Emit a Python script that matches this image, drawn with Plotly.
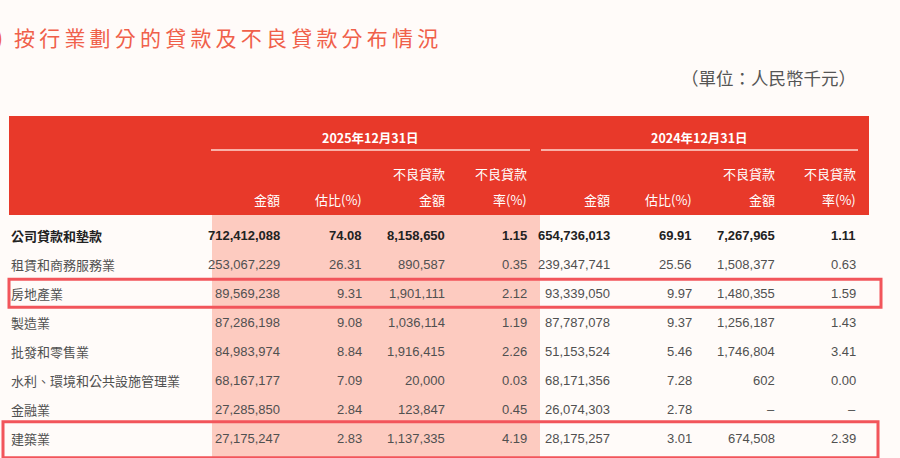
import plotly.graph_objects as go

# 數據
industries = ["公司貸款和墊款", "租賃和商務服務業", "房地產業", "製造業",
              "批發和零售業", "水利、環境和公共設施管理業", "金融業", "建築業"]
amt_2025 = [712412088, 253067229, 89569238, 87286198, 84983974, 68167177, 27285850, 27175247]
pct_2025 = [74.08, 26.31, 9.31, 9.08, 8.84, 7.09, 2.84, 2.83]
npl_2025 = [8158650, 890587, 1901111, 1036114, 1916415, 20000, 123847, 1137335]
npl_rate_2025 = [1.15, 0.35, 2.12, 1.19, 2.26, 0.03, 0.45, 4.19]
amt_2024 = [654736013, 239347741, 93339050, 87787078, 51153524, 68171356, 26074303, 28175257]
pct_2024 = [69.91, 25.56, 9.97, 9.37, 5.46, 7.28, 2.78, 3.01]
npl_2024 = [7267965, 1508377, 1480355, 1256187, 1746804, 602, None, 674508]
npl_rate_2024 = [1.11, 0.63, 1.59, 1.43, 3.41, 0.00, None, 2.39]
highlight_rows = ["房地產業", "建築業"]

periods = ["2025年12月31日", "2024年12月31日"]
sub_line1 = ["", "", "不良貸款", "不良貸款"]
sub_line2 = ["金額", "估比(%)", "金額", "率(%)"]

title = "按行業劃分的貸款及不良貸款分布情況"
unit_text = "（單位：人民幣千元）"

# 版面
W, H = 900, 458
BG = "#fffbf9"
RED = "#e8392a"
PINK = "#fdcbc0"
BOX = "#f2555b"
col_right = [282, 364, 447, 529, 612, 694, 777, 858]
row_y0, row_h = 235, 29.1
# 紅框樣式：左、右、上、下留白
box_style = {"房地產業": (9, 881, 14, 14), "建築業": (3, 878, 17, 19)}
NUM_FONT = "Liberation Sans, Arial, sans-serif"
CJK_FONT = "Noto Sans CJK TC, Noto Sans CJK SC, sans-serif"


def fmt_int(v):
    return "–" if v is None else f"{v:,}"


def fmt_pct(v):
    return "–" if v is None else f"{v:.2f}"


fig = go.Figure()
shapes = []
ann = []

# 表頭紅底
shapes.append(dict(type="rect", x0=9, x1=869, y0=116, y1=215, fillcolor=RED, line_width=0, layer="below"))
# 2025 粉色底
shapes.append(dict(type="rect", x0=212, x1=540, y0=215, y1=H + 5, fillcolor=PINK, line_width=0, layer="below"))
# 日期下劃線
for x0, x1 in [(211, 530), (541, 858)]:
    shapes.append(dict(type="line", x0=x0, x1=x1, y0=150, y1=150, line=dict(color="#ffd9d2", width=1.5)))

# 日期
for i, p in enumerate(periods):
    cx = (211 + 530) / 2 if i == 0 else (541 + 858) / 2
    ann.append(dict(x=cx, y=137, text=f"<b>{p}</b>", showarrow=False, xanchor="center", yanchor="middle",
                    font=dict(family=CJK_FONT, size=12.5, color="white")))

# 子表頭
for k in range(8):
    j = k % 4
    if sub_line1[j]:
        ann.append(dict(x=col_right[k], y=173, text=sub_line1[j], showarrow=False, xanchor="right",
                        yanchor="middle", font=dict(family=CJK_FONT, size=13, color="white")))
    ann.append(dict(x=col_right[k], y=199, text=sub_line2[j], showarrow=False, xanchor="right",
                    yanchor="middle", font=dict(family=CJK_FONT, size=13, color="white")))

# 表身
cols = [
    [fmt_int(v) for v in amt_2025],
    [fmt_pct(v) for v in pct_2025],
    [fmt_int(v) for v in npl_2025],
    [fmt_pct(v) for v in npl_rate_2025],
    [fmt_int(v) for v in amt_2024],
    [fmt_pct(v) for v in pct_2024],
    [fmt_int(v) for v in npl_2024],
    [fmt_pct(v) for v in npl_rate_2024],
]
for r, name in enumerate(industries):
    y = row_y0 + r * row_h
    bold = r == 0
    color = "#222222" if bold else "#505050"
    label = f"<b>{name}</b>" if bold else name
    ann.append(dict(x=9, y=y, text=label, showarrow=False, xanchor="left", yanchor="middle",
                    font=dict(family=CJK_FONT, size=13, color=color)))
    for k in range(8):
        t = cols[k][r]
        if bold:
            t = f"<b>{t}</b>"
        ann.append(dict(x=col_right[k], y=y, text=t, showarrow=False, xanchor="right", yanchor="middle",
                        font=dict(family=NUM_FONT, size=13, color=color)))

# 紅框
for name in highlight_rows:
    r = industries.index(name)
    y = row_y0 + r * row_h
    x0, x1, pt, pb = box_style[name]
    shapes.append(dict(type="rect", x0=x0, x1=x1, y0=y - pt, y1=y + pb,
                       line=dict(color=BOX, width=3), fillcolor="rgba(0,0,0,0)"))

# 標題
ann.append(dict(x=5, y=37, text=")", showarrow=False, xanchor="right", yanchor="middle",
                font=dict(family=CJK_FONT, size=21, color="#f0604a")))
ann.append(dict(x=12, y=37, text="\u2009".join(title), showarrow=False, xanchor="left", yanchor="middle",
                font=dict(family=CJK_FONT, size=21, color="#f0604a")))
ann.append(dict(x=858, y=77, text=unit_text, showarrow=False, xanchor="right", yanchor="middle",
                font=dict(family=CJK_FONT, size=17.5, color="#555555")))

for a in ann:
    a["xref"] = "x"
    a["yref"] = "y"
for s in shapes:
    s["xref"] = "x"
    s["yref"] = "y"

fig.update_layout(
    width=W, height=H,
    margin=dict(l=0, r=0, t=0, b=0),
    paper_bgcolor=BG, plot_bgcolor=BG,
    xaxis=dict(range=[0, W], visible=False, fixedrange=True),
    yaxis=dict(range=[H, 0], visible=False, fixedrange=True),
    shapes=shapes, annotations=ann, showlegend=False,
)

fig.write_html("out.html", config={"displayModeBar": False},
               post_script="document.body.style.margin='0';document.body.style.background='%s';" % BG)
